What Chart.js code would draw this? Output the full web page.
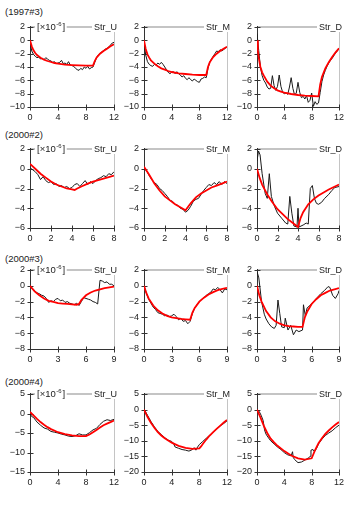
<!DOCTYPE html>
<html><head><meta charset="utf-8">
<script src="https://cdn.jsdelivr.net/npm/chart.js@4/dist/chart.umd.min.js"></script>
<style>
html,body{margin:0;padding:0;background:#fff;width:350px;height:509px;overflow:hidden;position:relative;font-family:"Liberation Sans",Arial,sans-serif}
canvas{position:absolute}
.t{position:absolute;left:5px;font-size:9.5px;color:#222;line-height:12px;white-space:nowrap}
</style></head><body>
<div class="t" style="top:6px">(1997#3)</div>
<div class="t" style="top:129px">(2000#2)</div>
<div class="t" style="top:253px">(2000#3)</div>
<div class="t" style="top:376px">(2000#4)</div>
<script>
// ---- tick labels ----
const xTicksR1 = [0,4,8,12];
const xTicksR2 = [0,2,4,6,8];
const xTicksR3 = [0,3,6,9];
const xTicksR4 = [0,4,8,12];
const yTicksR1 = [-10,-8,-6,-4,-2,0,2];
const yTicksR2 = [-6,-4,-2,0,2];
const yTicksR3 = [-8,-6,-4,-2,0,2];
const yTicksR4U = [-15,-10,-5,0,5];
const yTicksR4MD = [-20,-15,-10,-5,0,5];
const seriesNames = ["Str_U","Str_M","Str_D"];
const unitLabel = "[×10", unitExp = "-6";

// ---- shared measurement times ----
const xq12 = [0,0.25,0.5,0.75,1,1.25,1.5,1.75,2,2.25,2.5,2.75,3,3.25,3.5,3.75,4,4.25,4.5,4.75,5,5.25,5.5,5.75,6,6.25,6.5,6.75,7,7.25,7.5,7.75,8,8.25,8.5,8.75,9,9.25,9.5,9.75,10,10.25,10.5,10.75,11,11.25,11.5,11.75,12];
const xq8 = [0,0.25,0.5,0.75,1,1.25,1.5,1.75,2,2.25,2.5,2.75,3,3.25,3.5,3.75,4,4.25,4.5,4.75,5,5.25,5.5,5.75,6,6.25,6.5,6.75,7,7.25,7.5,7.75,8];
const xq9 = [0,0.25,0.5,0.75,1,1.25,1.5,1.75,2,2.25,2.5,2.75,3,3.25,3.5,3.75,4,4.25,4.5,4.75,5,5.25,5.5,5.75,6,6.25,6.5,6.75,7,7.25,7.5,7.75,8,8.25,8.5,8.75,9];

// ---- (1997#3) ----
const r1U_my = [-0.3,-1.6,-2.1,-2.4,-2.6,-2.5,-2.8,-2.7,-2.9,-2.6,-2.8,-3.0,-3.1,-3.3,-3.2,-3.5,-3.4,-3.3,-3.0,-3.5,-3.4,-3.6,-3.2,-3.7,-3.8,-3.9,-4.2,-4.4,-4.5,-4.2,-4.4,-4.0,-4.2,-3.9,-4.3,-4.1,-4.0,-3.3,-2.6,-2.2,-2.0,-1.7,-1.6,-1.3,-1.2,-1.0,-0.7,-0.4,-0.3];
const r1U_fx = [0,0.25,0.5,0.75,1,1.5,2,2.5,3,3.5,4,5,6,7,8,9,9.25,9.5,10,10.5,11,11.5,12];
const r1U_fy = [0,-0.9,-1.5,-1.9,-2.2,-2.6,-2.9,-3.1,-3.25,-3.4,-3.5,-3.65,-3.72,-3.77,-3.8,-3.8,-3.1,-2.6,-2.0,-1.6,-1.25,-0.9,-0.6];

const r1M_my = [-0.3,-2.2,-3.2,-3.6,-3.8,-3.9,-3.6,-3.7,-3.4,-3.6,-3.3,-3.6,-4.0,-4.4,-4.8,-5.0,-4.8,-4.7,-5.0,-4.7,-5.0,-5.2,-5.5,-5.3,-5.7,-5.9,-5.6,-5.9,-6.1,-5.8,-6.0,-6.2,-6.3,-5.8,-5.7,-5.5,-5.6,-4.2,-3.3,-2.8,-2.4,-2.0,-1.6,-1.7,-1.4,-1.6,-1.4,-1.2,-1.0];
const r1M_fx = [0,0.25,0.5,0.75,1,1.5,2,2.5,3,3.5,4,5,6,7,8,9,9.25,9.5,10,10.5,11,11.5,12];
const r1M_fy = [0,-1.3,-2.1,-2.6,-3.0,-3.5,-3.9,-4.2,-4.4,-4.6,-4.75,-4.95,-5.05,-5.15,-5.2,-5.2,-4.0,-3.3,-2.5,-2.0,-1.6,-1.25,-0.95];

const r1D_my = [1.0,-1.5,-4.0,-5.3,-6.0,-6.4,-7.0,-7.3,-7.2,-5.3,-6.8,-7.5,-6.9,-5.2,-6.9,-7.8,-8.0,-7.9,-8.1,-7.0,-5.6,-7.2,-8.2,-7.9,-6.3,-7.8,-8.6,-8.4,-8.8,-8.3,-9.3,-9.0,-7.9,-9.9,-9.2,-9.6,-9.4,-7.8,-6.2,-5.2,-4.5,-3.9,-3.4,-3.0,-2.7,-2.3,-1.9,-1.6,-1.2];
const r1D_fx = [0,0.125,0.25,0.5,0.75,1,1.5,2,2.5,3,3.5,4,5,6,7,8,9,9.25,9.5,10,10.5,11,11.5,12];
const r1D_fy = [0,-1.5,-2.6,-4.0,-4.8,-5.3,-6.2,-6.8,-7.2,-7.5,-7.7,-7.85,-8.05,-8.2,-8.3,-8.35,-8.4,-6.6,-5.5,-4.2,-3.3,-2.5,-1.8,-1.2];

// ---- (2000#2) ----
const r2U_my = [0.1,-0.1,-0.3,-0.6,-1.1,-0.8,-1.2,-1.4,-1.3,-1.6,-1.5,-1.8,-1.7,-1.9,-1.8,-2.0,-1.9,-1.6,-1.5,-1.8,-1.5,-1.2,-1.6,-1.3,-1.5,-1.2,-1.0,-0.9,-0.7,-0.8,-0.5,-0.6,-0.3];
const r2U_fx = [0,0.5,1,1.5,2,2.5,3,3.5,4,4.25,4.5,5,5.5,6,6.5,7,7.5,8];
const r2U_fy = [0.5,0.0,-0.5,-0.9,-1.3,-1.6,-1.8,-2.0,-2.1,-2.15,-2.0,-1.75,-1.5,-1.3,-1.15,-1.0,-0.85,-0.7];

const r2M_my = [0,-0.2,-0.7,-1.1,-1.4,-1.6,-2.0,-2.2,-2.5,-2.8,-3.2,-3.3,-3.6,-3.7,-4.0,-4.1,-4.4,-4.2,-3.8,-3.3,-3.1,-3.0,-2.6,-2.2,-1.9,-1.6,-1.7,-1.4,-1.6,-1.3,-1.6,-1.3,-1.5];
const r2M_fx = [0,0.25,0.5,1,1.5,2,2.5,3,3.5,4,4.5,5,5.5,6,6.5,7,7.5,8];
const r2M_fy = [0.2,-0.2,-0.6,-1.5,-2.2,-2.8,-3.2,-3.6,-3.9,-4.2,-3.5,-2.9,-2.5,-2.2,-1.9,-1.7,-1.5,-1.3];

const r2D_mx = [0,0.15,0.3,0.5,0.8,1.0,1.2,1.4,1.7,2.0,2.4,2.8,3.0,3.2,3.4,3.6,3.9,4.0,4.1,4.5,4.8,5.0,5.2,5.4,5.6,5.8,6.0,6.3,6.6,7.0,7.3,7.6,8.0];
const r2D_my = [0.8,1.8,1.4,-0.5,-2.5,-3.0,-0.5,-2.8,-3.8,-4.5,-5.0,-5.5,-5.6,-2.8,-4.5,-5.8,-5.9,-4.0,-5.9,-5.7,-5.5,-5.6,-2.0,-1.7,-3.0,-3.5,-3.6,-3.4,-3.0,-2.6,-2.2,-1.9,-1.8];
const r2D_fx = [0,0.25,0.5,1,1.5,2,2.5,3,3.5,4,4.25,4.5,5,5.5,6,6.5,7,7.5,8];
const r2D_fy = [0,-0.9,-1.6,-2.6,-3.4,-4.1,-4.6,-5.1,-5.5,-5.9,-5.0,-4.4,-3.6,-3.1,-2.7,-2.4,-2.1,-1.85,-1.6];

// ---- (2000#3) ----
const r3U_my = [0,-0.4,-0.6,-0.9,-1.0,-1.2,-1.3,-1.6,-2.1,-1.9,-2.0,-1.7,-1.6,-1.9,-1.8,-2.1,-2.0,-2.2,-2.3,-2.4,-2.2,-2.5,-2.0,-1.5,-1.6,-1.7,-1.8,-2.0,-2.1,-2.3,0.7,0.6,0.4,0.5,0.2,0.2,0.0];
const r3U_fx = [0,0.5,1,1.5,2,2.5,3,3.5,4,4.5,5,5.25,5.5,6,6.5,7,7.5,8,8.5,9];
const r3U_fy = [0,-0.7,-1.2,-1.6,-1.9,-2.05,-2.2,-2.25,-2.3,-2.35,-2.4,-2.3,-1.8,-1.2,-0.85,-0.6,-0.45,-0.3,-0.2,-0.1];

const r3M_my = [0,-0.9,-1.7,-2.2,-2.7,-3.0,-3.4,-3.5,-3.6,-3.8,-3.7,-3.9,-3.8,-3.6,-3.9,-4.3,-4.1,-4.5,-4.4,-4.8,-4.5,-3.5,-2.8,-2.4,-2.0,-1.7,-1.5,-1.2,-1.0,-0.8,-0.4,-0.5,-0.2,-0.5,-0.9,-0.4,-0.5];
const r3M_fx = [0,0.25,0.5,1,1.5,2,2.5,3,3.5,4,4.5,5,5.25,5.5,6,6.5,7,7.5,8,8.5,9];
const r3M_fy = [0,-0.9,-1.6,-2.5,-3.1,-3.5,-3.8,-4.0,-4.1,-4.2,-4.25,-4.3,-3.4,-2.8,-2.0,-1.5,-1.1,-0.8,-0.55,-0.4,-0.25];

const r3D_mx = [0,0.2,0.5,0.8,1.0,1.3,1.6,1.9,2.1,2.3,2.5,2.7,3.0,3.1,3.4,3.7,4.0,4.3,4.6,5.0,5.1,5.3,5.5,5.8,6.2,6.6,7.0,7.4,7.8,8.0,8.3,8.6,8.9,9.0];
const r3D_my = [1.8,1.0,-2.0,-3.6,-4.2,-4.8,-5.2,-5.4,-5.0,-1.8,-3.5,-5.2,-5.3,-4.1,-5.6,-5.0,-6.2,-5.6,-5.8,-5.6,-2.4,-3.8,-2.8,-2.5,-2.0,-1.5,-1.0,-0.6,-0.1,-0.2,-1.2,-1.6,-1.0,-0.6];
const r3D_fx = [0,0.25,0.5,1,1.5,2,2.5,3,3.5,4,4.5,5,5.25,5.5,6,6.5,7,7.5,8,8.5,9];
const r3D_fy = [0,-1.2,-2.0,-3.2,-4.0,-4.5,-4.8,-5.0,-5.1,-5.15,-5.2,-5.2,-4.0,-3.3,-2.3,-1.7,-1.2,-0.9,-0.6,-0.45,-0.3];

// ---- (2000#4) ----
const r4U_mx = [0,0.25,0.5,1,1.5,2,2.5,3,3.5,4,4.5,5,5.5,6,6.5,7,7.5,8,8.5,9,9.5,10,10.5,11,11.5,12];
const r4U_my = [0,-0.8,-1.0,-2.2,-3.0,-3.7,-4.0,-4.6,-4.8,-5.0,-5.3,-5.5,-5.8,-5.9,-5.7,-5.2,-5.5,-5.5,-4.9,-4.2,-3.8,-2.8,-2.0,-1.6,-1.8,-1.5];
const r4U_fx = [0,0.5,1,1.5,2,2.5,3,4,5,6,7,8,8.5,9,9.5,10,10.5,11,11.5,12];
const r4U_fy = [0.4,-0.5,-1.4,-2.2,-2.9,-3.5,-4.0,-4.8,-5.3,-5.6,-5.8,-5.8,-5.4,-4.8,-4.2,-3.6,-3.0,-2.6,-2.2,-1.8];

const r4M_mx = [0,0.5,1,1.5,2,2.5,3,3.5,4,4.25,4.5,5,5.5,6,6.5,7,7.25,7.5,7.75,8,8.5,9,9.5,10,10.5,11,11.5,12];
const r4M_my = [0.2,-1.8,-3.8,-5.5,-7.0,-8.0,-9.0,-9.8,-10.2,-10.8,-12.0,-12.4,-12.8,-13.0,-13.3,-12.8,-12.2,-13.0,-12.0,-11.2,-10.2,-9.2,-8.2,-7.2,-6.2,-5.2,-4.5,-3.6];
const r4M_fx = [0,0.5,1,1.5,2,2.5,3,4,5,6,7,8,8.25,8.5,9,9.5,10,10.5,11,11.5,12];
const r4M_fy = [0,-2.3,-4.2,-5.8,-7.2,-8.3,-9.2,-10.6,-11.6,-12.3,-12.6,-12.4,-11.8,-11.0,-9.6,-8.3,-7.2,-6.2,-5.2,-4.2,-3.3];

const r4D_mx = [0,0.3,0.6,0.9,1.1,1.3,1.6,2,2.5,3,3.5,4,4.5,5,5.2,5.3,5.5,6,6.5,7,7.5,7.8,7.9,8.2,8.4,8.7,9,9.5,10,10.5,11,11.5,12];
const r4D_my = [0,-0.5,-1.8,-3.5,-6.5,-7.8,-8.8,-10.0,-11.0,-12.0,-12.8,-13.8,-14.5,-14.8,-13.5,-15.3,-16.0,-17.0,-16.8,-16.2,-15.5,-15.0,-13.0,-12.8,-13.5,-12.5,-11.0,-9.5,-8.3,-7.5,-6.8,-5.8,-5.0];
const r4D_fx = [0,0.5,1,1.5,2,2.5,3,4,5,6,7,8,8.5,9,9.5,10,10.5,11,11.5,12];
const r4D_fy = [0,-2.5,-5.2,-7.5,-9.3,-10.5,-11.6,-13.3,-14.7,-15.6,-16.0,-15.6,-13.0,-10.8,-9.2,-7.8,-6.7,-5.7,-4.8,-4.0];

// ---- layout ----
const colLeft = [30,144,257], colRight = [114,227,339];
const rowTop = [27,149,270,394], rowBottom = [107,228,349,472];
const FONT = '"Liberation Sans", Arial, sans-serif';

const panels = [
  {r:0,c:0,mx:xq12,my:r1U_my,fx:r1U_fx,fy:r1U_fy,xt:xTicksR1,yt:yTicksR1},
  {r:0,c:1,mx:xq12,my:r1M_my,fx:r1M_fx,fy:r1M_fy,xt:xTicksR1,yt:yTicksR1},
  {r:0,c:2,mx:xq12,my:r1D_my,fx:r1D_fx,fy:r1D_fy,xt:xTicksR1,yt:yTicksR1},
  {r:1,c:0,mx:xq8,my:r2U_my,fx:r2U_fx,fy:r2U_fy,xt:xTicksR2,yt:yTicksR2},
  {r:1,c:1,mx:xq8,my:r2M_my,fx:r2M_fx,fy:r2M_fy,xt:xTicksR2,yt:yTicksR2},
  {r:1,c:2,mx:r2D_mx,my:r2D_my,fx:r2D_fx,fy:r2D_fy,xt:xTicksR2,yt:yTicksR2},
  {r:2,c:0,mx:xq9,my:r3U_my,fx:r3U_fx,fy:r3U_fy,xt:xTicksR3,yt:yTicksR3},
  {r:2,c:1,mx:xq9,my:r3M_my,fx:r3M_fx,fy:r3M_fy,xt:xTicksR3,yt:yTicksR3},
  {r:2,c:2,mx:r3D_mx,my:r3D_my,fx:r3D_fx,fy:r3D_fy,xt:xTicksR3,yt:yTicksR3},
  {r:3,c:0,mx:r4U_mx,my:r4U_my,fx:r4U_fx,fy:r4U_fy,xt:xTicksR4,yt:yTicksR4U},
  {r:3,c:1,mx:r4M_mx,my:r4M_my,fx:r4M_fx,fy:r4M_fy,xt:xTicksR4,yt:yTicksR4MD},
  {r:3,c:2,mx:r4D_mx,my:r4D_my,fx:r4D_fx,fy:r4D_fy,xt:xTicksR4,yt:yTicksR4MD},
];

const framePlugin = {
  id:'frame',
  beforeDatasetsDraw(chart){
    const ctx = chart.ctx, a = chart.chartArea;
    const L = Math.round(a.left)+0.5, R = Math.round(a.right)+0.5, T = Math.round(a.top), B = Math.round(a.bottom)+0.5;
    ctx.save();
    ctx.strokeStyle = '#c4c4c4';
    ctx.lineWidth = 2;
    ctx.beginPath(); ctx.moveTo(L, T); ctx.lineTo(R, T); ctx.stroke();
    ctx.lineWidth = 1;
    ctx.beginPath(); ctx.moveTo(R, T); ctx.lineTo(R, B); ctx.stroke();
    ctx.strokeStyle = '#333';
    ctx.beginPath(); ctx.moveTo(L, T-1); ctx.lineTo(L, B); ctx.lineTo(R, B); ctx.stroke();
    const xs = chart.scales.x, ys = chart.scales.y;
    ctx.beginPath();
    xs.ticks.forEach(t => { const px = Math.round(xs.getPixelForValue(t.value))+0.5; ctx.moveTo(px, B-3); ctx.lineTo(px, B+3); });
    ys.ticks.forEach(t => { const py = Math.round(ys.getPixelForValue(t.value))+0.5; ctx.moveTo(L-3, py); ctx.lineTo(L+3, py); });
    ctx.stroke();
    ctx.restore();
  },
  afterDatasetsDraw(chart){
    const p = chart.canvas.$panel;
    if (!p) return;
    const ctx = chart.ctx, a = chart.chartArea;
    ctx.save();
    ctx.font = '9px ' + FONT;
    ctx.textBaseline = 'middle';
    const name = seriesNames[p.c];
    const w = ctx.measureText(name).width;
    const tx = a.right + 3 - w, ty = Math.round(a.top);
    ctx.fillStyle = '#fff';
    ctx.fillRect(tx-2, ty-5, w+4, 10);
    ctx.fillStyle = '#222';
    ctx.fillText(name, tx, ty+0.5);
    if (p.c === 0) {
      const x0 = a.left + 7;
      ctx.font = '9.5px ' + FONT;
      const w1 = ctx.measureText(unitLabel).width;
      ctx.font = '6px ' + FONT;
      const w2 = ctx.measureText(unitExp).width;
      ctx.font = '9.5px ' + FONT;
      const w3 = ctx.measureText(']').width;
      ctx.fillStyle = '#fff';
      ctx.fillRect(x0-2, ty-6, w1+w2+w3+5, 12);
      ctx.fillStyle = '#222';
      ctx.fillText(unitLabel, x0, ty+0.5);
      ctx.font = '6px ' + FONT;
      ctx.fillText(unitExp, x0+w1+0.5, ty-2.5);
      ctx.font = '9.5px ' + FONT;
      ctx.fillText(']', x0+w1+w2+1.5, ty+0.5);
    }
    ctx.restore();
  }
};

const fmtTick = v => String(v).replace('-', '\u2212');

panels.forEach(p => {
  const L = colLeft[p.c], R = colRight[p.c], T = rowTop[p.r], B = rowBottom[p.r];
  const padL = 30, padT = 10, padR = 16, padB = 18;
  const w = R - L + padL + padR, h = B - T + padT + padB;
  const cv = document.createElement('canvas');
  cv.width = w; cv.height = h;
  cv.style.left = (L - padL) + 'px'; cv.style.top = (T - padT) + 'px';
  cv.style.width = w + 'px'; cv.style.height = h + 'px';
  cv.$panel = p;
  document.body.appendChild(cv);
  const tickFont = {family: FONT, size: 9};
  new Chart(cv, {
    type: 'line',
    data: { datasets: [
      { data: p.fx.map((x,i)=>({x:x, y:p.fy[i]})), borderColor:'#ff0000', borderWidth:1.8, pointRadius:0, tension:0, order:0, fill:false },
      { data: p.mx.map((x,i)=>({x:x, y:p.my[i]})), borderColor:'#1a1a1a', borderWidth:1, pointRadius:0, tension:0, order:1, fill:false }
    ]},
    options: {
      responsive:false, animation:false, events:[],
      layout:{padding:{left:0, top:padT, right:padR, bottom:0}},
      plugins:{legend:{display:false}, tooltip:{enabled:false}},
      scales:{
        x:{ type:'linear', min:p.xt[0], max:p.xt[p.xt.length-1],
            afterBuildTicks: s => { s.ticks = p.xt.map(v=>({value:v})); },
            afterFit: s => { s.height = padB; },
            grid:{display:false, drawTicks:true, tickLength:4}, border:{display:false},
            ticks:{padding:1.5, font:tickFont, color:'#222', maxRotation:0, autoSkip:false, callback:fmtTick} },
        y:{ type:'linear', min:p.yt[0], max:p.yt[p.yt.length-1],
            afterBuildTicks: s => { s.ticks = p.yt.map(v=>({value:v})); },
            afterFit: s => { s.width = padL; },
            grid:{display:false, drawTicks:true, tickLength:4}, border:{display:false},
            ticks:{padding:1, font:tickFont, color:'#222', autoSkip:false, callback:fmtTick} }
      }
    },
    plugins:[framePlugin]
  });
});
</script>
</body></html>
